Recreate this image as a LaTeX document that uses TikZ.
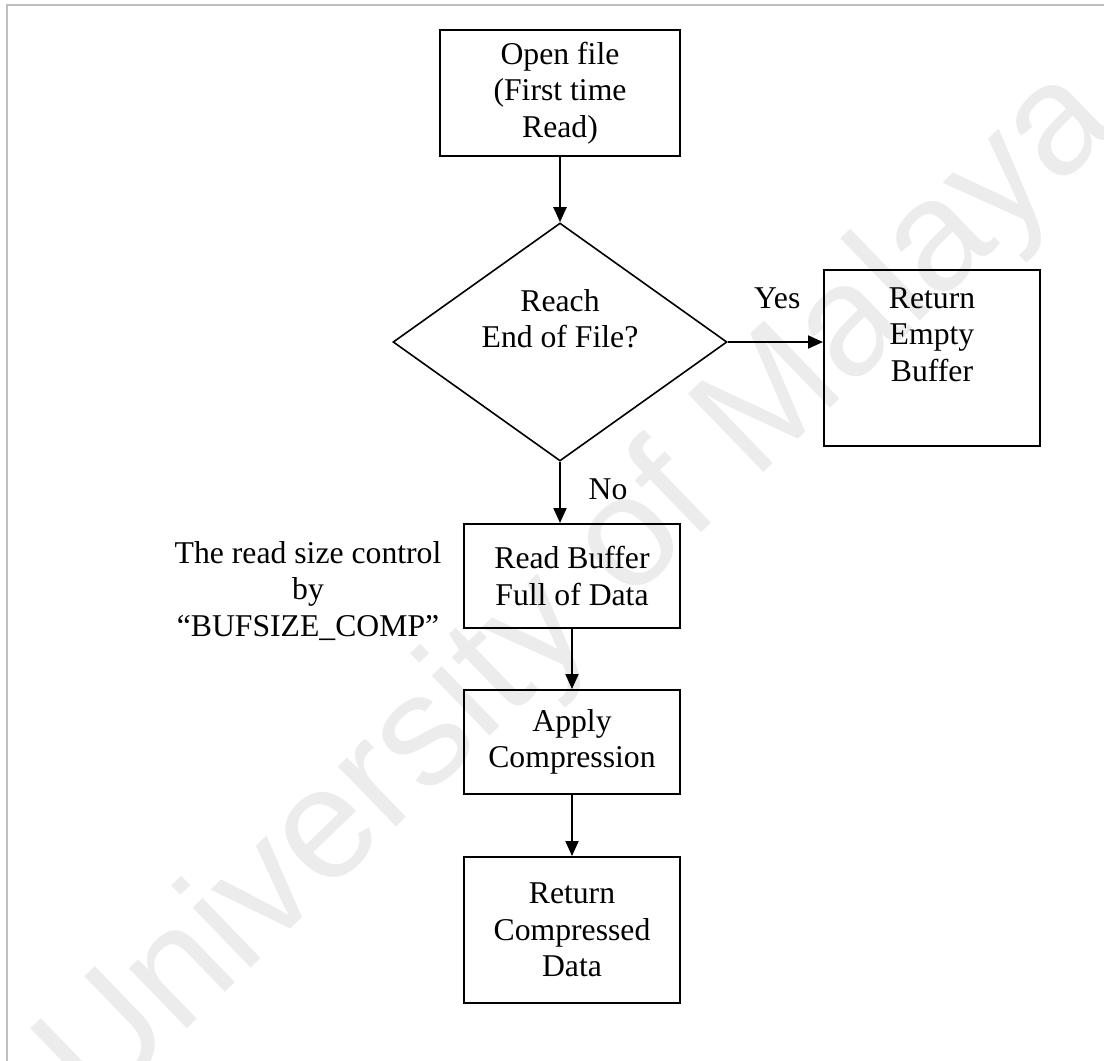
\documentclass[tikz,border=0pt]{standalone}
\usepackage{fontspec}
\setmainfont{Liberation Serif}
\newfontfamily\wmfont{Liberation Sans}
\usetikzlibrary{arrows.meta,shapes.geometric}
\definecolor{framegray}{RGB}{192,192,192}
\definecolor{markgray}{RGB}{236,236,236}
\tikzset{txt/.style={font=\fontsize{31.7pt}{36.5pt}\selectfont,align=center,inner sep=0pt}}
\tikzset{procbox/.style={txt,draw,line width=2pt,minimum width=216pt}}
\tikzset{decision/.style={txt,draw,diamond,aspect=1.4,line width=1.6pt,minimum width=334pt,minimum height=238pt}}
\tikzset{flow/.style={line width=2pt,-{Triangle[length=15pt,width=13pt]}}}
\tikzset{watermark/.style={font=\wmfont\fontsize{158pt}{158pt}\selectfont,text=markgray,inner sep=0pt,rotate=44}}

\begin{document}
\begin{tikzpicture}[x=1pt,y=-1pt]
    \useasboundingbox (0,0) rectangle (1104,1061);
    \node[watermark] (wm) at (581,592) {University of Malaya};
    \draw[framegray,line width=2pt] (6.5,1061) -- (6.5,5) -- (1104,5);
    \node[procbox,minimum width=240pt,minimum height=126pt] (open) at (560,93) {Open file\\(First time\\Read)};
    \node[decision] (eof) at (560,342) {Reach\\End of File?\\\strut};
    \node[procbox,minimum height=176pt] (empty) at (932,358) {Return\\Empty\\Buffer\\\strut};
    \node[procbox,minimum height=104pt] (readbuf) at (572,576) {Read Buffer\\Full of Data};
    \node[procbox,minimum height=104pt] (comp) at (572,742) {Apply\\Compression};
    \node[procbox,minimum height=146pt] (retdata) at (572,930) {Return\\Compressed\\Data};
    \node[txt] (sizenote) at (308,591) {The read size control\\by\\“BUFSIZE\_COMP”};
    \draw[flow] (open) -- (eof);
    \draw[flow] (eof.east) -- node[txt,pos=0.52,yshift=44pt] (yes) {Yes} (eof.east -| empty.west);
    \draw[flow] (eof.south) -- node[txt,xshift=48pt,pos=0.45] (no) {No} (eof.south |- readbuf.north);
    \draw[flow] (readbuf) -- (comp);
    \draw[flow] (comp) -- (retdata);
\end{tikzpicture}
\end{document}
